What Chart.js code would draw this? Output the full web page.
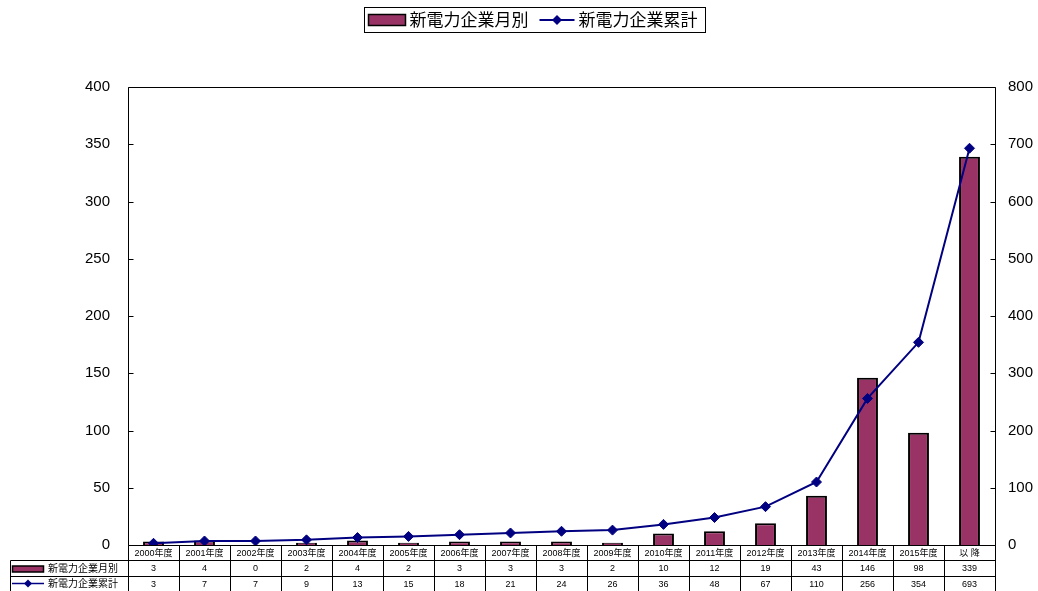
<!DOCTYPE html>
<html>
<head>
<meta charset="utf-8">
<script src="https://cdn.jsdelivr.net/npm/chart.js@4"></script>
<style>
  html, body { margin: 0; padding: 0; background: #fff; }
  #wrap { width: 1038px; height: 591px; position: relative; }
</style>
</head>
<body>
<div id="wrap"><canvas id="c" width="1038" height="591"></canvas></div>
<script>
// 年度別の新電力企業数（棒）と累計（折れ線）
const categories = ['2000年度', '2001年度', '2002年度', '2003年度', '2004年度', '2005年度',
  '2006年度', '2007年度', '2008年度', '2009年度', '2010年度', '2011年度', '2012年度',
  '2013年度', '2014年度', '2015年度', '以 降'];
const monthlyLabel = '新電力企業月別';
const totalLabel = '新電力企業累計';
const monthly = [3, 4, 0, 2, 4, 2, 3, 3, 3, 2, 10, 12, 19, 43, 146, 98, 339];
const cumulative = [3, 7, 7, 9, 13, 15, 18, 21, 24, 26, 36, 48, 67, 110, 256, 354, 693];
const leftTicks = [0, 50, 100, 150, 200, 250, 300, 350, 400];
const rightTicks = [0, 100, 200, 300, 400, 500, 600, 700, 800];

const BAR_COLOR = '#993366';
const LINE_COLOR = '#000080';
const CJK = '"Liberation Sans", "Noto Sans CJK JP", sans-serif';

function diamond(ctx, x, y, r) {
  ctx.beginPath();
  ctx.moveTo(x, y - r);
  ctx.lineTo(x + r, y);
  ctx.lineTo(x, y + r);
  ctx.lineTo(x - r, y);
  ctx.closePath();
  ctx.fill();
}

// Frame, inward tick marks, top legend and the data table under the plot
const decorations = {
  id: 'decorations',
  afterDraw(chart) {
    const ctx = chart.ctx;
    const area = chart.chartArea;
    const xs = chart.scales.x;
    const yl = chart.scales.y;
    const yr = chart.scales.y1;
    const L = Math.round(area.left) + 0.5;
    const R = Math.round(area.right) + 0.5;
    const T = Math.round(area.top) + 0.5;
    const B = Math.round(area.bottom) + 0.5;
    ctx.save();
    ctx.strokeStyle = '#000';
    ctx.lineWidth = 1;

    // plot frame
    ctx.beginPath();
    ctx.moveTo(L, B); ctx.lineTo(L, T); ctx.lineTo(R, T); ctx.lineTo(R, B);
    ctx.stroke();

    // tick marks pointing into the plot
    ctx.beginPath();
    leftTicks.forEach(v => {
      const y = Math.round(yl.getPixelForValue(v)) + 0.5;
      ctx.moveTo(L, y); ctx.lineTo(L + 5, y);
    });
    rightTicks.forEach(v => {
      const y = Math.round(yr.getPixelForValue(v)) + 0.5;
      ctx.moveTo(R, y); ctx.lineTo(R - 5, y);
    });
    ctx.stroke();

    // data table
    const n = categories.length;
    const bounds = [area.left];
    for (let i = 0; i < n - 1; i++) {
      bounds.push((xs.getPixelForValue(i) + xs.getPixelForValue(i + 1)) / 2);
    }
    bounds.push(area.right);
    const tableLeft = 10.5;
    const row1 = B;          // top of category row
    const row2 = 560.5;      // top of monthly row
    const row3 = 576.5;      // top of cumulative row
    const bottom = chart.height;

    ctx.beginPath();
    ctx.moveTo(L, row1); ctx.lineTo(R, row1);
    ctx.moveTo(tableLeft, row2); ctx.lineTo(R, row2);
    ctx.moveTo(tableLeft, row3); ctx.lineTo(R, row3);
    ctx.moveTo(tableLeft, row2); ctx.lineTo(tableLeft, bottom);
    bounds.forEach(b => {
      const x = Math.round(b) + 0.5;
      ctx.moveTo(x, row1); ctx.lineTo(x, bottom);
    });
    ctx.stroke();

    ctx.fillStyle = '#000';
    ctx.textAlign = 'center';
    ctx.textBaseline = 'middle';
    ctx.font = '9px ' + CJK;
    for (let i = 0; i < n; i++) {
      const cx = (bounds[i] + bounds[i + 1]) / 2;
      ctx.fillText(categories[i], cx, (row1 + row2) / 2 + 0.5);
      ctx.fillText(String(monthly[i]), cx, (row2 + row3) / 2 + 0.5);
      ctx.fillText(String(cumulative[i]), cx, row3 + 8);
    }

    // row headers with series keys
    ctx.textAlign = 'left';
    ctx.font = '10px ' + CJK;
    ctx.fillStyle = BAR_COLOR;
    ctx.fillRect(12.5, 566, 31, 6);
    ctx.lineWidth = 1.5;
    ctx.strokeRect(12.5, 566, 31, 6);
    ctx.fillStyle = '#000';
    ctx.fillText(monthlyLabel, 48, (row2 + row3) / 2 + 0.5);
    ctx.strokeStyle = LINE_COLOR;
    ctx.lineWidth = 1.5;
    ctx.beginPath();
    ctx.moveTo(12, row3 + 7); ctx.lineTo(44, row3 + 7);
    ctx.stroke();
    ctx.fillStyle = LINE_COLOR;
    diamond(ctx, 28, row3 + 7, 4);
    ctx.fillStyle = '#000';
    ctx.fillText(totalLabel, 48, row3 + 8);

    // legend on top
    ctx.font = '17px ' + CJK;
    const t1 = ctx.measureText(monthlyLabel).width;
    const t2 = ctx.measureText(totalLabel).width;
    const total = 4 + 37 + 4 + t1 + 11 + 35 + 4 + t2 + 8;
    const lx = Math.round(534 - total / 2) + 0.5;
    const ly = 7.5, lh = 25;
    ctx.strokeStyle = '#000';
    ctx.lineWidth = 1;
    ctx.strokeRect(lx, ly, total, lh);
    const cy = ly + lh / 2;
    let x = lx + 4;
    ctx.fillStyle = BAR_COLOR;
    ctx.fillRect(x, cy - 5.5, 37, 11);
    ctx.lineWidth = 1.5;
    ctx.strokeRect(x, cy - 5.5, 37, 11);
    x += 37 + 4;
    ctx.fillStyle = '#000';
    ctx.fillText(monthlyLabel, x, cy + 1);
    x += t1 + 11;
    ctx.strokeStyle = LINE_COLOR;
    ctx.lineWidth = 2;
    ctx.beginPath();
    ctx.moveTo(x, cy); ctx.lineTo(x + 35, cy);
    ctx.stroke();
    ctx.fillStyle = LINE_COLOR;
    diamond(ctx, x + 17.5, cy, 5);
    x += 35 + 4;
    ctx.fillStyle = '#000';
    ctx.fillText(totalLabel, x, cy + 1);
    ctx.restore();
  }
};

new Chart(document.getElementById('c'), {
  type: 'bar',
  data: {
    labels: categories,
    datasets: [
      {
        type: 'line',
        label: totalLabel,
        data: cumulative,
        yAxisID: 'y1',
        order: 0,
        borderColor: LINE_COLOR,
        borderWidth: 2,
        backgroundColor: LINE_COLOR,
        pointStyle: 'rectRot',
        pointRadius: 5,
        pointBackgroundColor: LINE_COLOR,
        pointBorderColor: LINE_COLOR,
        pointBorderWidth: 1,
        tension: 0,
        fill: false
      },
      {
        type: 'bar',
        label: monthlyLabel,
        data: monthly,
        yAxisID: 'y',
        order: 1,
        backgroundColor: BAR_COLOR,
        borderColor: '#000',
        borderWidth: 2,
        barPercentage: 0.41,
        categoryPercentage: 1.0
      }
    ]
  },
  options: {
    responsive: false,
    animation: false,
    layout: { padding: { top: 87, bottom: 46, left: 0, right: 0 } },
    plugins: { legend: { display: false }, tooltip: { enabled: false } },
    scales: {
      x: { display: false, offset: true },
      y: {
        position: 'left',
        min: 0, max: 400,
        afterBuildTicks: s => { s.ticks = leftTicks.map(v => ({ value: v })); },
        afterFit: s => { s.width = 128; },
        grid: { display: false, drawTicks: false },
        border: { display: false },
        ticks: { padding: 18, color: '#000', font: { family: 'Liberation Sans', size: 15 } }
      },
      y1: {
        position: 'right',
        min: 0, max: 800,
        afterBuildTicks: s => { s.ticks = rightTicks.map(v => ({ value: v })); },
        afterFit: s => { s.width = 43; },
        grid: { display: false, drawTicks: false },
        border: { display: false },
        ticks: { padding: 13, color: '#000', font: { family: 'Liberation Sans', size: 15 } }
      }
    }
  },
  plugins: [decorations]
});
</script>
</body>
</html>
